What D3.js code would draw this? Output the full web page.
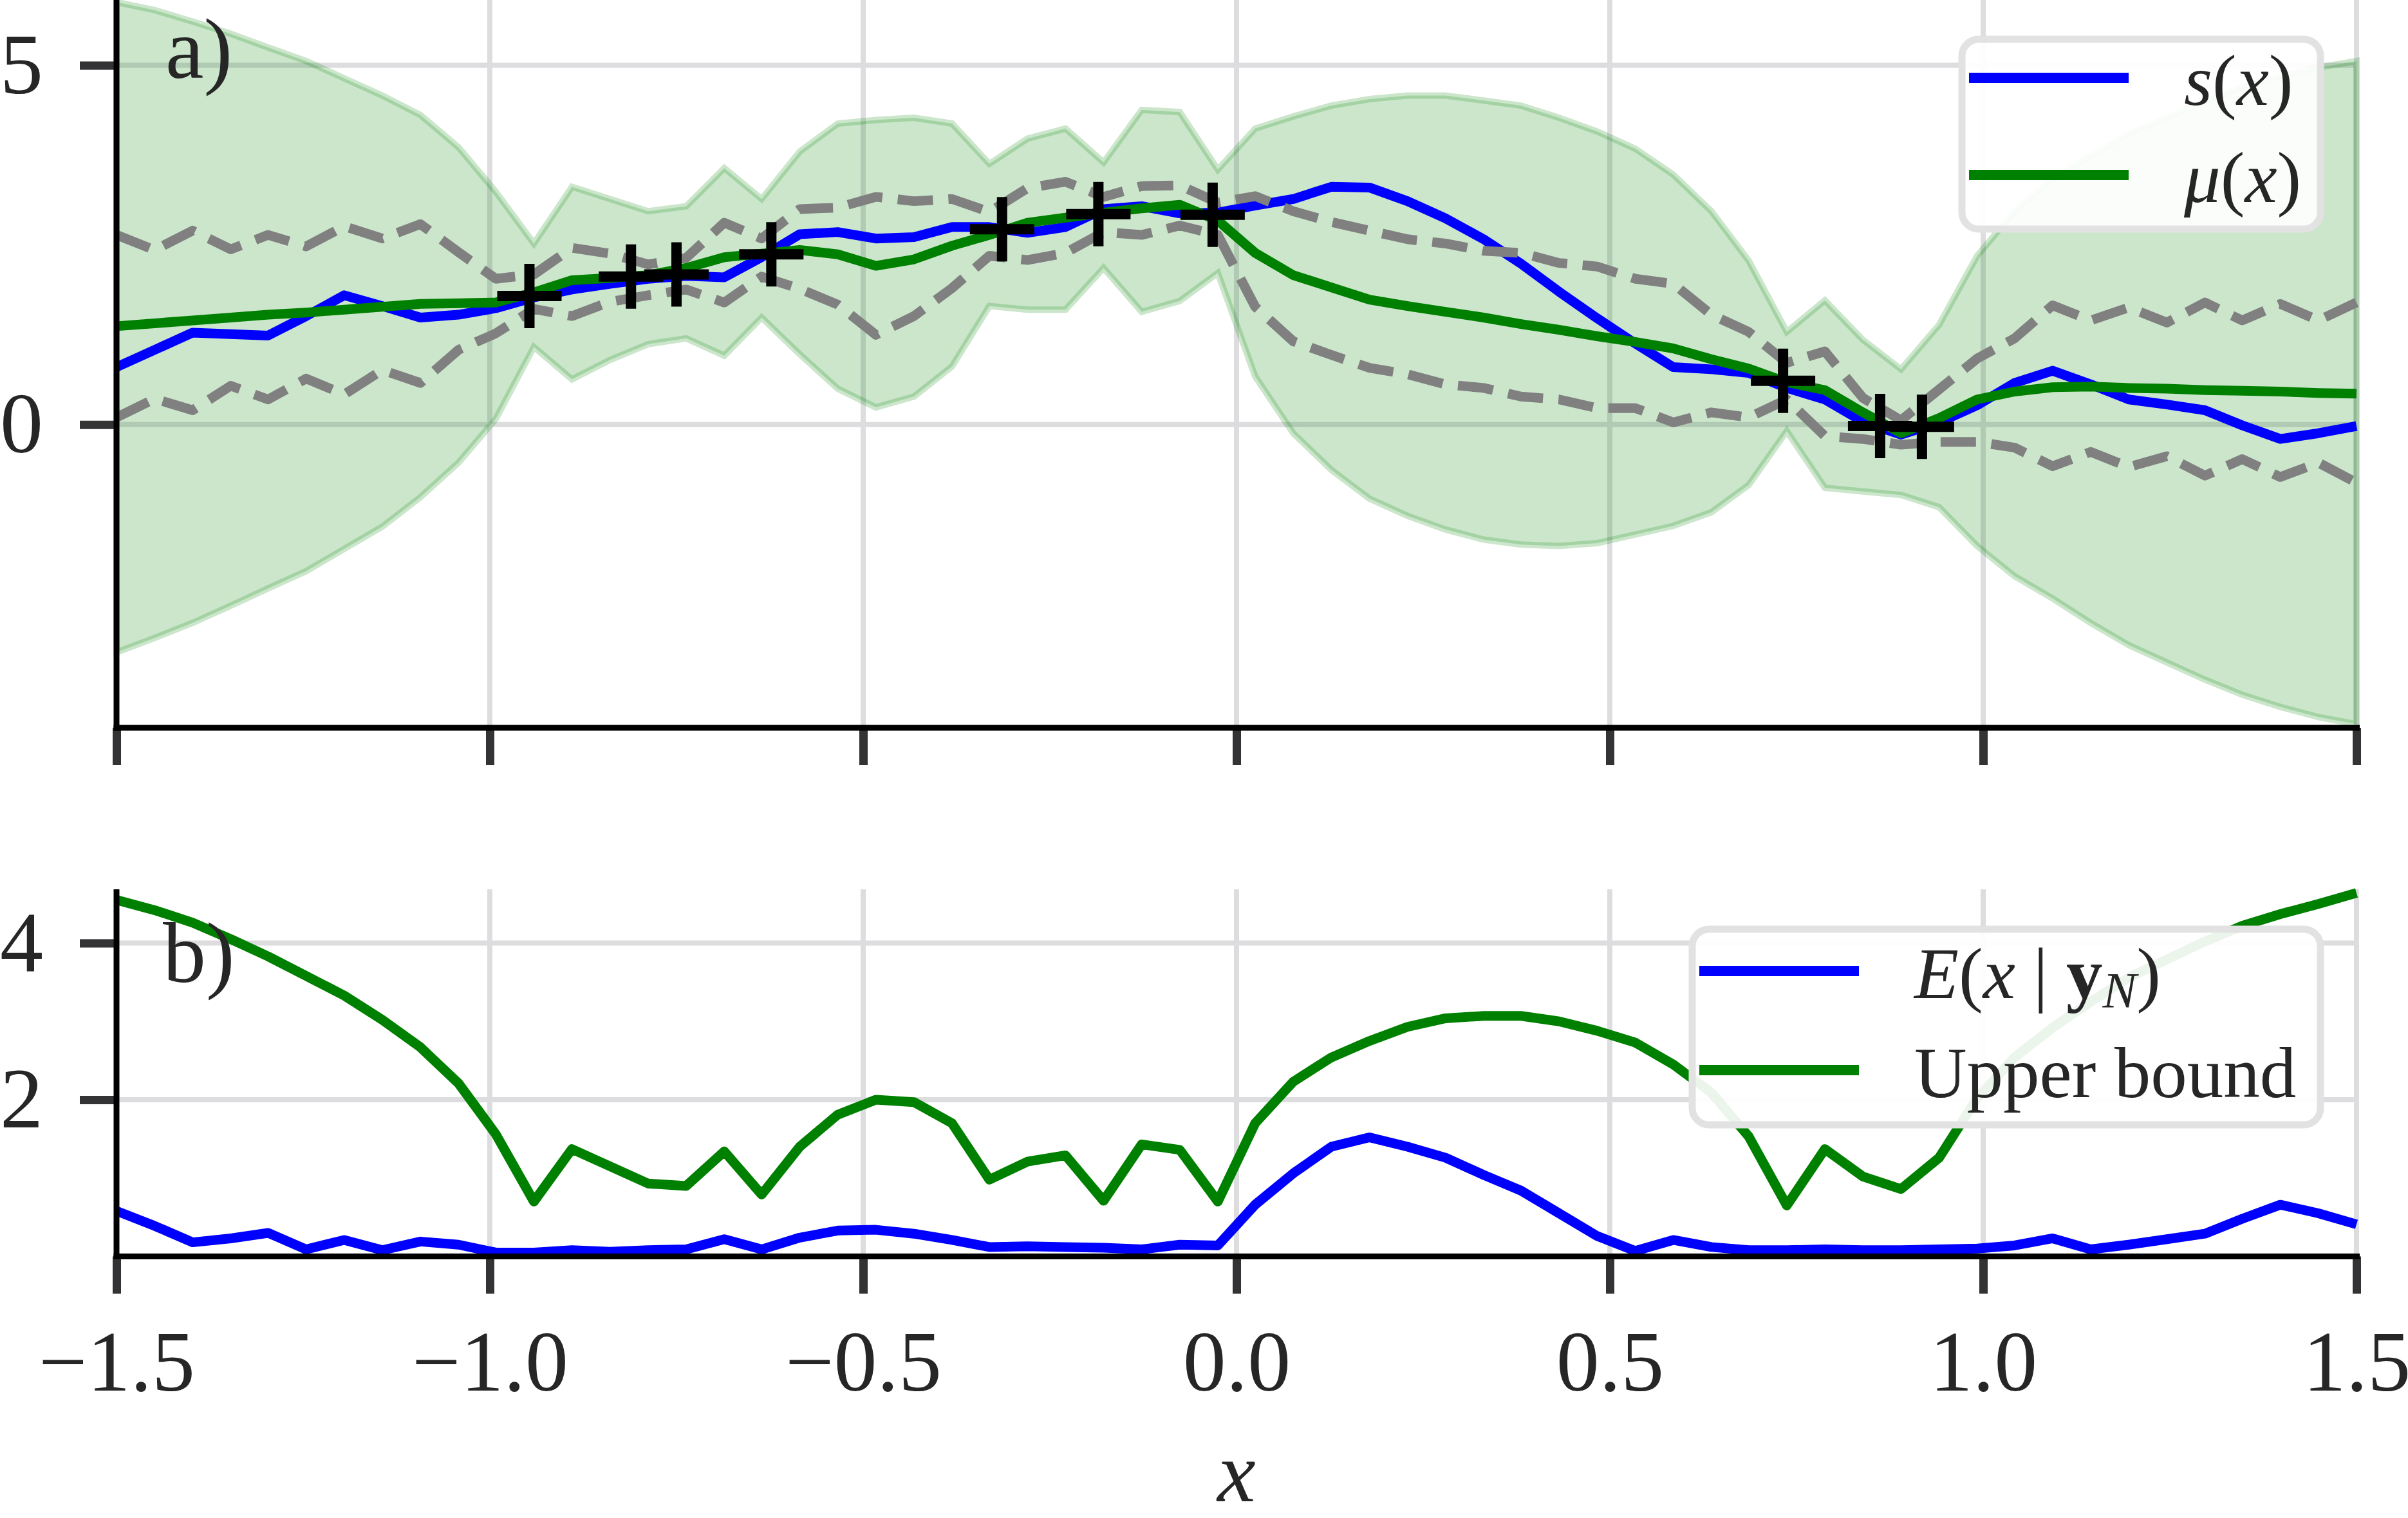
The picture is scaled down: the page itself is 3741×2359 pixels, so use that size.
<!DOCTYPE html>
<html>
<head>
<meta charset="utf-8">
<script src="https://cdn.jsdelivr.net/npm/d3@7"></script>
<style>
body { margin: 0; background: white; }
</style>
</head>
<body>
<div id="dataviz_area"></div>
<script>
// evaluation grid on x
var xs = [-1.500, -1.449, -1.398, -1.347, -1.297, -1.246, -1.195, -1.144, -1.093, -1.042,
          -0.992, -0.941, -0.890, -0.839, -0.788, -0.737, -0.686, -0.636, -0.585, -0.534,
          -0.483, -0.432, -0.381, -0.331, -0.280, -0.229, -0.178, -0.127, -0.076, -0.025,
           0.025,  0.076,  0.127,  0.178,  0.229,  0.280,  0.331,  0.381,  0.432,  0.483,
           0.534,  0.585,  0.636,  0.686,  0.737,  0.788,  0.839,  0.890,  0.941,  0.992,
           1.042,  1.093,  1.144,  1.195,  1.246,  1.297,  1.347,  1.398,  1.449,  1.500];

// panel a: true function s(x)
var s_vals = [0.80, 1.04, 1.28, 1.26, 1.24, 1.51, 1.80, 1.65, 1.49, 1.53,
              1.62, 1.77, 1.88, 1.96, 2.03, 2.07, 2.05, 2.33, 2.65, 2.68,
              2.59, 2.61, 2.75, 2.75, 2.67, 2.75, 3.00, 3.04, 2.94, 2.95,
              3.05, 3.14, 3.31, 3.30, 3.11, 2.87, 2.58, 2.24, 1.85, 1.48,
              1.13, 0.80, 0.77, 0.72, 0.51, 0.35, 0.04, -0.14, 0.03, 0.27,
              0.58, 0.75, 0.56, 0.35, 0.28, 0.20, -0.01, -0.20, -0.12, -0.02];

// posterior mean mu(x)
var mu_vals = [1.37, 1.41, 1.45, 1.49, 1.53, 1.56, 1.60, 1.64, 1.68, 1.69,
               1.70, 1.84, 2.01, 2.04, 2.08, 2.18, 2.33, 2.38, 2.43, 2.37,
               2.21, 2.30, 2.49, 2.64, 2.81, 2.88, 2.95, 3.01, 3.06, 2.84,
               2.39, 2.08, 1.91, 1.74, 1.65, 1.57, 1.49, 1.40, 1.32, 1.23,
               1.15, 1.06, 0.91, 0.78, 0.59, 0.48, 0.17, -0.12, 0.09, 0.35,
               0.46, 0.52, 0.53, 0.51, 0.50, 0.48, 0.47, 0.46, 0.44, 0.43];

// confidence band
var band_hi = [5.88, 5.77, 5.61, 5.44, 5.25, 5.06, 4.82, 4.58, 4.31, 3.86,
               3.24, 2.52, 3.31, 3.14, 2.97, 3.04, 3.57, 3.14, 3.80, 4.19,
               4.24, 4.27, 4.19, 3.63, 3.98, 4.12, 3.65, 4.38, 4.35, 3.55,
               4.12, 4.29, 4.44, 4.53, 4.58, 4.58, 4.51, 4.44, 4.27, 4.08,
               3.84, 3.48, 2.97, 2.28, 1.29, 1.73, 1.18, 0.77, 1.39, 2.35,
               2.97, 3.42, 3.74, 4.05, 4.27, 4.50, 4.70, 4.85, 4.97, 5.06];
var band_lo = [-3.17, -2.97, -2.76, -2.52, -2.28, -2.04, -1.73, -1.42, -1.01, -0.53,
               0.08, 1.08, 0.63, 0.90, 1.12, 1.20, 0.96, 1.49, 0.98, 0.50,
               0.24, 0.39, 0.81, 1.65, 1.60, 1.60, 2.18, 1.57, 1.72, 2.11,
               0.67, -0.12, -0.63, -1.03, -1.27, -1.46, -1.60, -1.67, -1.69, -1.65,
               -1.53, -1.41, -1.22, -0.84, -0.09, -0.88, -0.93, -0.98, -1.15, -1.69,
               -2.11, -2.42, -2.76, -3.07, -3.31, -3.55, -3.76, -3.93, -4.07, -4.17];

// two posterior samples (dashed)
var sample_a = [2.64, 2.43, 2.70, 2.44, 2.64, 2.48, 2.76, 2.59, 2.79, 2.40,
                2.03, 2.09, 2.46, 2.38, 2.23, 2.32, 2.81, 2.59, 3.00, 3.02,
                3.17, 3.11, 3.14, 2.96, 3.29, 3.38, 3.17, 3.32, 3.33, 3.09,
                3.18, 2.97, 2.82, 2.70, 2.58, 2.52, 2.42, 2.39, 2.25, 2.20,
                2.03, 1.96, 1.53, 1.29, 0.86, 1.02, 0.37, 0.06, 0.49, 0.92,
                1.20, 1.66, 1.45, 1.63, 1.42, 1.70, 1.45, 1.68, 1.45, 1.70];
var sample_b = [0.10, 0.36, 0.20, 0.54, 0.35, 0.64, 0.42, 0.76, 0.58, 1.04,
                1.27, 1.61, 1.51, 1.71, 1.80, 1.88, 1.70, 2.06, 1.89, 1.67,
                1.25, 1.51, 1.90, 2.35, 2.29, 2.39, 2.68, 2.64, 2.77, 2.64,
                1.64, 1.16, 0.97, 0.79, 0.70, 0.56, 0.51, 0.39, 0.35, 0.23,
                0.23, 0.03, 0.17, 0.10, 0.35, -0.16, -0.20, -0.28, -0.24, -0.24,
                -0.32, -0.58, -0.38, -0.59, -0.44, -0.71, -0.48, -0.73, -0.53, -0.81];

// observations y_N
var obs_x = [-0.947, -0.811, -0.750, -0.623, -0.314, -0.185, -0.032, 0.732, 0.862, 0.918];
var obs_y = [1.79, 2.06, 2.09, 2.37, 2.72, 2.93, 2.92, 0.61, -0.02, -0.03];

// panel b: error and its upper bound
var err_vals = [0.58, 0.39, 0.18, 0.23, 0.30, 0.09, 0.21, 0.08, 0.19, 0.15,
                0.05, 0.05, 0.08, 0.06, 0.08, 0.09, 0.22, 0.09, 0.24, 0.33,
                0.34, 0.29, 0.21, 0.12, 0.13, 0.12, 0.11, 0.09, 0.15, 0.14,
                0.66, 1.06, 1.40, 1.52, 1.40, 1.26, 1.04, 0.84, 0.55, 0.26,
                0.07, 0.21, 0.12, 0.08, 0.08, 0.09, 0.08, 0.08, 0.09, 0.10,
                0.14, 0.23, 0.09, 0.15, 0.22, 0.29, 0.48, 0.66, 0.55, 0.41];
var bound_vals = [4.55, 4.42, 4.26, 4.05, 3.83, 3.58, 3.33, 3.02, 2.67, 2.21,
                  1.56, 0.70, 1.37, 1.15, 0.93, 0.90, 1.34, 0.79, 1.40, 1.81,
                  2.00, 1.97, 1.70, 0.98, 1.21, 1.29, 0.71, 1.43, 1.36, 0.70,
                  1.70, 2.23, 2.54, 2.75, 2.93, 3.04, 3.07, 3.07, 3.00, 2.88,
                  2.73, 2.45, 2.09, 1.53, 0.65, 1.37, 1.02, 0.86, 1.26, 2.02,
                  2.54, 2.92, 3.25, 3.56, 3.79, 4.02, 4.22, 4.37, 4.50, 4.64];

// ticks
var x_ticks = [-1.5, -1.0, -0.5, 0.0, 0.5, 1.0, 1.5];
var x_labels = ["\u22121.5", "\u22121.0", "\u22120.5", "0.0", "0.5", "1.0", "1.5"];
var top_ticks = [0, 5];
var top_labels = ["0", "5"];
var bot_ticks = [2, 4];
var bot_labels = ["2", "4"];

var font = "'Liberation Serif', 'Times New Roman', 'DejaVu Serif', serif";
var ink = "#262626";

var width = 3741, height = 2359;
var left = 181, right = 3661;

var svg = d3.select("#dataviz_area")
    .append("svg")
    .attr("width", width)
    .attr("height", height);

var scale_x = d3.scaleLinear()
    .domain([-1.5, 1.5])
    .range([left, right]);

var scale_top = d3.scaleLinear()
    .domain([-4.22, 5.91])
    .range([1131, 0]);

var scale_bot = d3.scaleLinear()
    .domain([0, 4.686])
    .range([1952.5, 1382]);

function draw_grid(yscale, yticks) {
    var r = yscale.range();
    var g = svg.append("g")
	.attr("stroke", "#dddde0")
	.attr("stroke-width", 8);
    g.selectAll("line.v")
	.data(x_ticks)
	.enter()
	.append("line")
	.attr("class", "v")
	.attr("x1", function(d) { return scale_x(d); })
	.attr("x2", function(d) { return scale_x(d); })
	.attr("y1", r[1])
	.attr("y2", r[0]);
    g.selectAll("line.h")
	.data(yticks)
	.enter()
	.append("line")
	.attr("class", "h")
	.attr("x1", left)
	.attr("x2", right)
	.attr("y1", function(d) { return yscale(d); })
	.attr("y2", function(d) { return yscale(d); });
}

function draw_line(vals, yscale, color, dash) {
    var line = d3.line()
	.x(function(d, i) { return scale_x(xs[i]); })
	.y(function(d) { return yscale(d); });
    svg.append("path")
	.datum(vals)
	.attr("d", line)
	.attr("fill", "none")
	.attr("stroke", color)
	.attr("stroke-width", 15)
	.attr("stroke-linejoin", "round")
	.attr("stroke-dasharray", dash ? "55,24" : null);
}

function draw_axes(yscale, yticks, ylabels, show_x) {
    var r = yscale.range();
    var gx = svg.append("g")
	.attr("transform", "translate(0," + r[0] + ")")
	.call(d3.axisBottom(scale_x)
	      .tickValues(x_ticks)
	      .tickSize(58)
	      .tickPadding(55)
	      .tickFormat(function(d, i) { return show_x ? x_labels[i] : ""; }));
    var gy = svg.append("g")
	.attr("transform", "translate(" + left + ",0)")
	.call(d3.axisLeft(yscale)
	      .tickValues(yticks)
	      .tickSize(57)
	      .tickPadding(57)
	      .tickFormat(function(d, i) { return ylabels[i]; }));
    [gx, gy].forEach(function(g) {
	g.select(".domain").remove();
	g.attr("font-family", font).attr("font-size", 134);
	g.selectAll(".tick line")
	    .attr("stroke", "#333336")
	    .attr("stroke-width", 13);
	g.selectAll(".tick text").attr("fill", ink);
    });
    // spines, left and bottom only
    svg.append("line")
	.attr("x1", left - 4.5).attr("x2", right + 5)
	.attr("y1", r[0]).attr("y2", r[0])
	.attr("stroke", "black").attr("stroke-width", 9);
    svg.append("line")
	.attr("x1", left).attr("x2", left)
	.attr("y1", r[1]).attr("y2", r[0] + 4.5)
	.attr("stroke", "black").attr("stroke-width", 9);
}

// parts: [text, style] with style n / i / b / sub
function add_rich_text(g, x, y, parts) {
    var t = g.append("text")
	.attr("x", x)
	.attr("y", y)
	.attr("font-family", font)
	.attr("font-size", 113)
	.attr("fill", ink);
    var shifted = false;
    parts.forEach(function(p) {
	var ts = t.append("tspan").text(p[0]);
	if (p[1] == "i" || p[1] == "sub") ts.attr("font-style", "italic");
	if (p[1] == "b") ts.attr("font-weight", "bold");
	if (p[1] == "sub") {
	    ts.attr("font-size", 79).attr("dy", 14);
	    shifted = true;
	} else if (shifted) {
	    ts.attr("dy", -14);
	    shifted = false;
	}
    });
}

function draw_legend(box, entries) {
    var g = svg.append("g");
    g.append("rect")
	.attr("x", box[0]).attr("y", box[1])
	.attr("width", box[2]).attr("height", box[3])
	.attr("rx", 26)
	.attr("fill", "white")
	.attr("fill-opacity", 0.92)
	.attr("stroke", "#e2e2e2")
	.attr("stroke-width", 11);
    entries.forEach(function(e) {
	g.append("line")
	    .attr("x1", box[0] + 11).attr("x2", box[0] + 259)
	    .attr("y1", e.y).attr("y2", e.y)
	    .attr("stroke", e.color)
	    .attr("stroke-width", 16);
	add_rich_text(g, box[0] + 345, e.y + 42, e.parts);
    });
}

// ---- panel a ----
draw_grid(scale_top, top_ticks);

var band = d3.area()
    .x(function(d, i) { return scale_x(xs[i]); })
    .y0(function(d, i) { return scale_top(band_lo[i]); })
    .y1(function(d, i) { return scale_top(band_hi[i]); });

svg.append("path")
    .datum(band_hi)
    .attr("d", band)
    .attr("fill", "green")
    .attr("fill-opacity", 0.2)
    .attr("stroke", "green")
    .attr("stroke-opacity", 0.2)
    .attr("stroke-width", 10);

draw_line(s_vals, scale_top, "#0000ff", false);
draw_line(mu_vals, scale_top, "#008000", false);
draw_line(sample_a, scale_top, "#808080", true);
draw_line(sample_b, scale_top, "#808080", true);

// observation crosses
svg.append("g")
    .selectAll("path")
    .data(obs_x)
    .enter()
    .append("path")
    .attr("d", function(d, i) {
	var cx = scale_x(d), cy = scale_top(obs_y[i]);
	return "M" + (cx - 50) + "," + cy + "H" + (cx + 50) +
	    "M" + cx + "," + (cy - 50) + "V" + (cy + 50);
    })
    .attr("stroke", "black")
    .attr("stroke-width", 16)
    .attr("fill", "none");

draw_axes(scale_top, top_ticks, top_labels, false);

svg.append("text")
    .attr("x", left + 76)
    .attr("y", 121)
    .attr("font-family", font)
    .attr("font-size", 134)
    .attr("fill", ink)
    .text("a)");

draw_legend([3048, 61, 557, 295], [
    {y: 121, color: "#0000ff", parts: [["s", "i"], ["(", "n"], ["x", "i"], [")", "n"]]},
    {y: 272, color: "#008000", parts: [["\u03bc", "i"], ["(", "n"], ["x", "i"], [")", "n"]]}
]);

// ---- panel b ----
draw_grid(scale_bot, bot_ticks);
draw_line(err_vals, scale_bot, "#0000ff", false);
draw_line(bound_vals, scale_bot, "#008000", false);
draw_axes(scale_bot, bot_ticks, bot_labels, true);

svg.append("text")
    .attr("x", left + 72)
    .attr("y", 1526)
    .attr("font-family", font)
    .attr("font-size", 134)
    .attr("fill", ink)
    .text("b)");

draw_legend([2629, 1444, 976, 304], [
    {y: 1509, color: "#0000ff", parts: [["E", "i"], ["(", "n"], ["x", "i"], [" | ", "n"],
					["y", "b"], ["N", "sub"], [")", "n"]]},
    {y: 1663, color: "#008000", parts: [["Upper bound", "n"]]}
]);

// x axis label
svg.append("text")
    .attr("x", scale_x(0))
    .attr("y", 2333)
    .attr("text-anchor", "middle")
    .attr("font-family", font)
    .attr("font-style", "italic")
    .attr("font-size", 134)
    .attr("fill", ink)
    .text("x");
</script>
</body>
</html>
